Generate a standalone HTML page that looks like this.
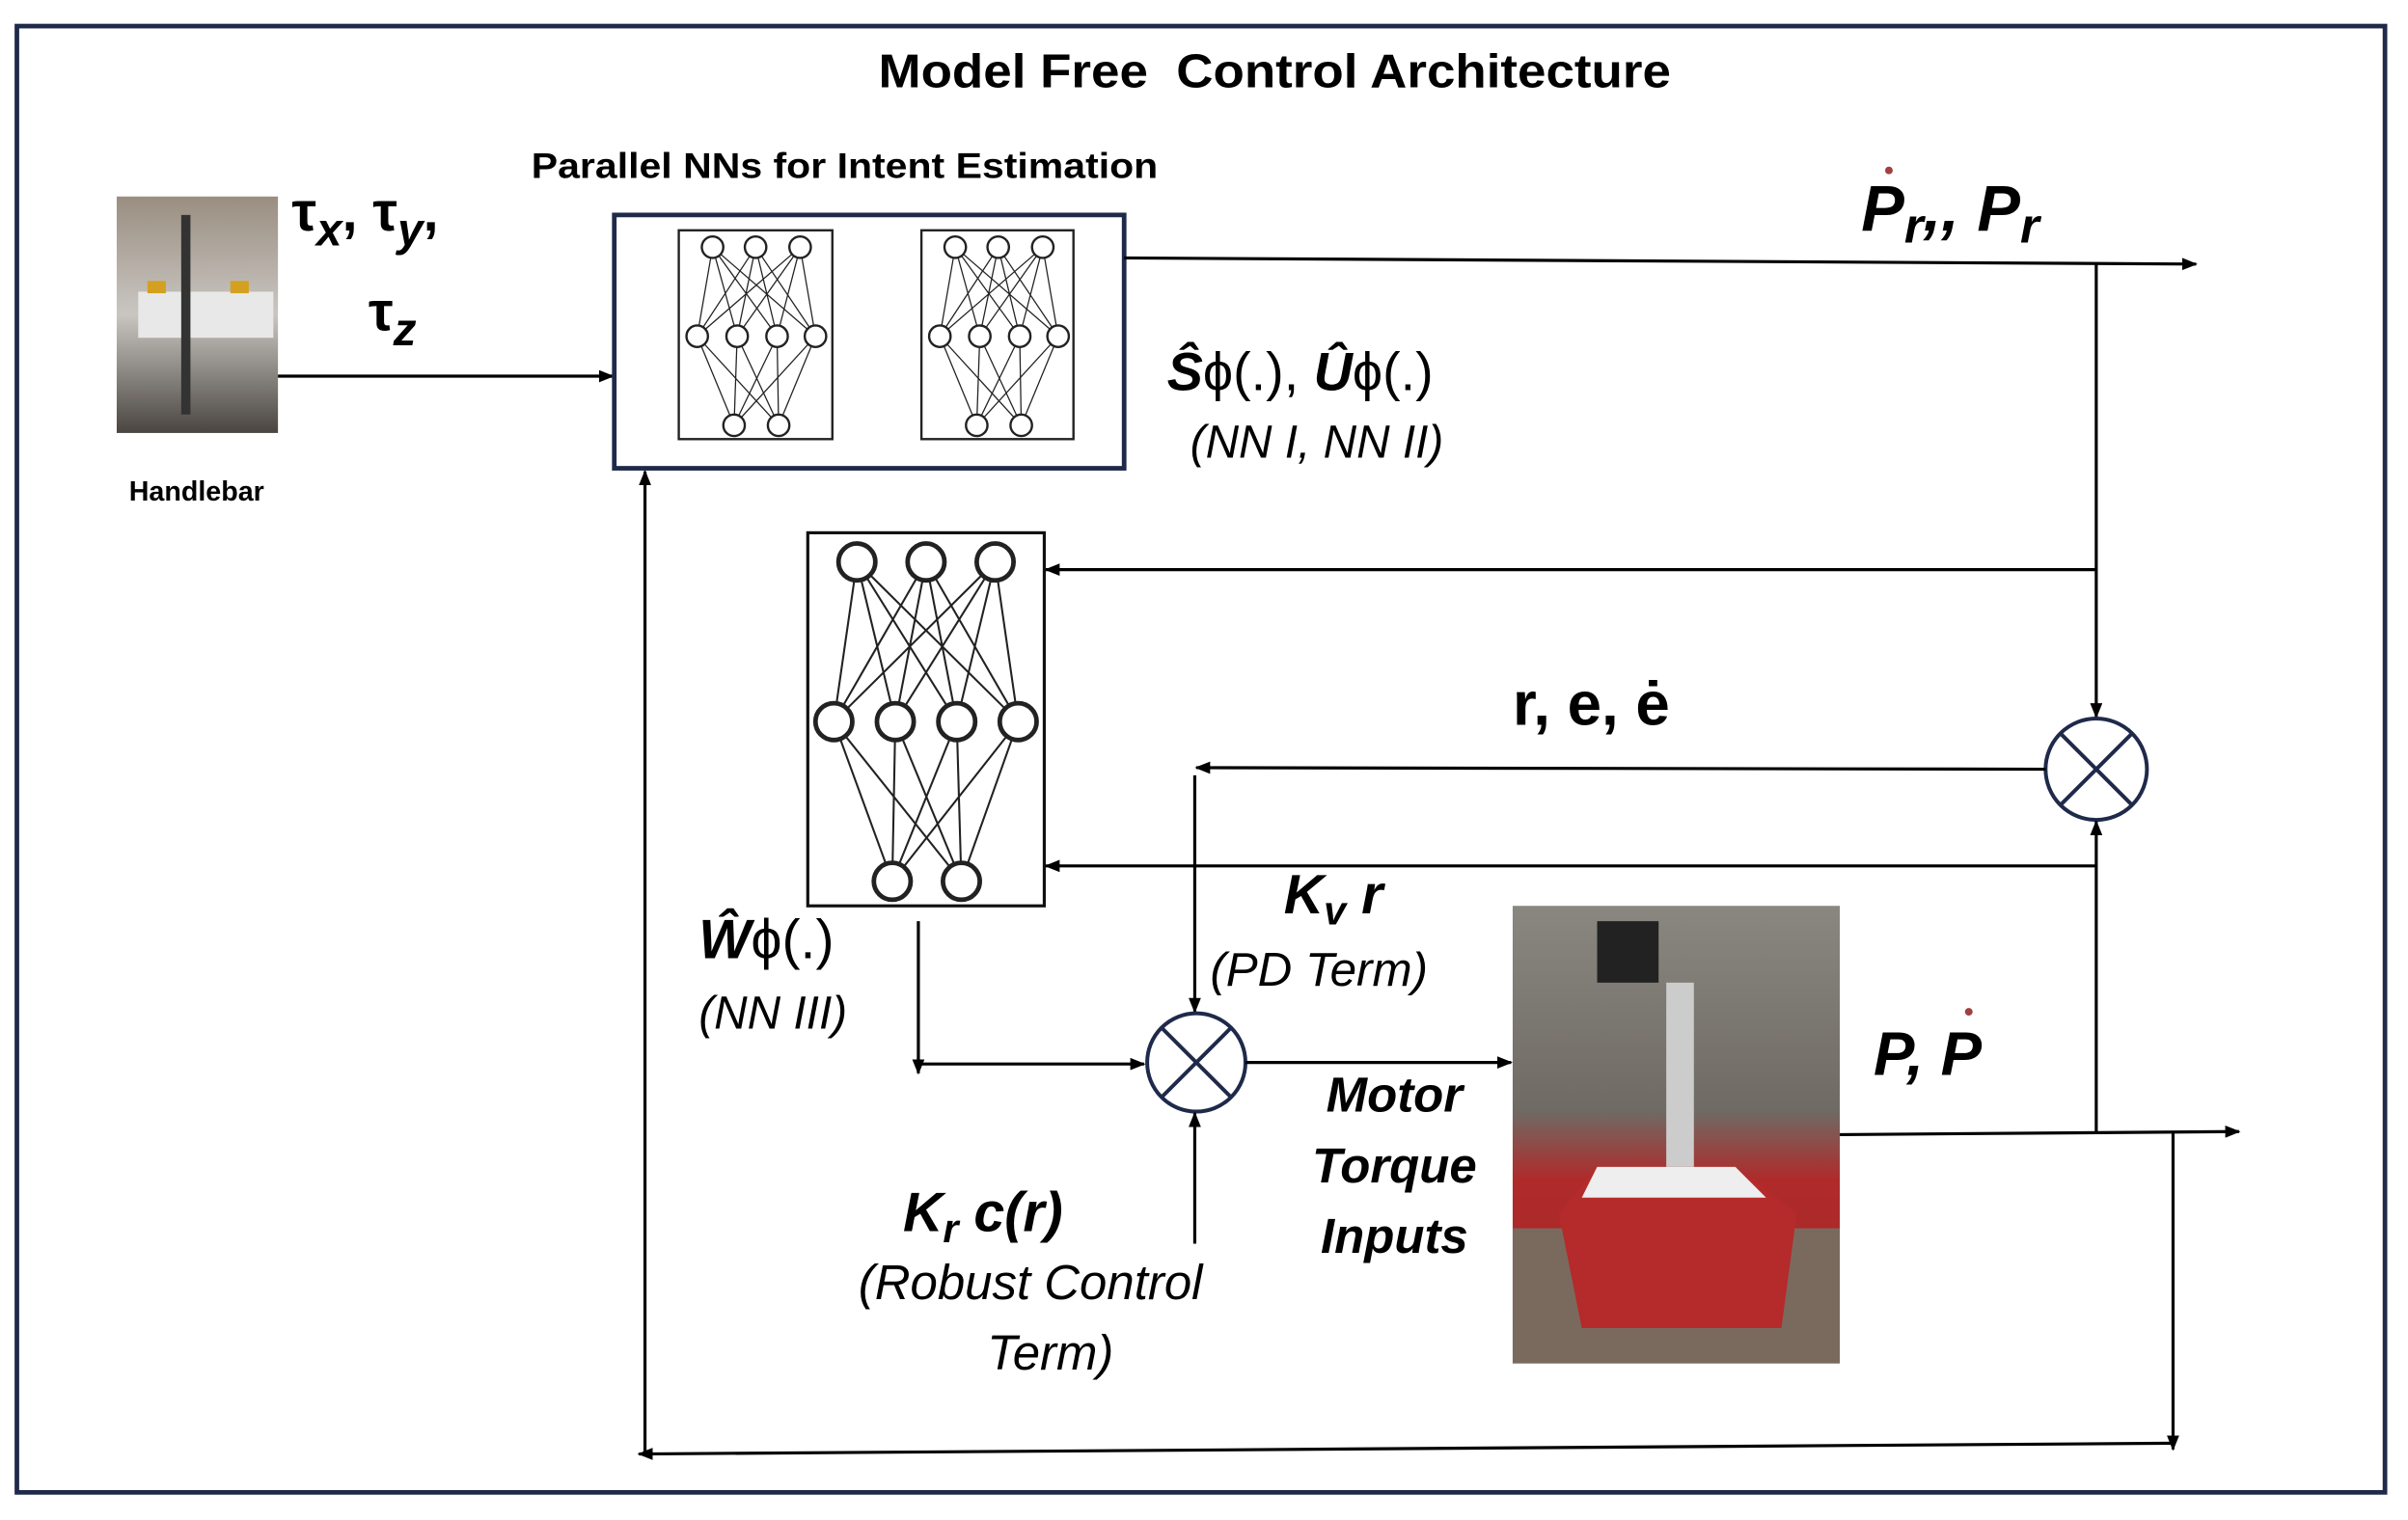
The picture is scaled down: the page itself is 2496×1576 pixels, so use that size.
<!DOCTYPE html>
<html><head><meta charset="utf-8"><style>
html,body{margin:0;padding:0;background:#fff}
svg{display:block}
text{font-family:"Liberation Sans",sans-serif;fill:#000}
</style></head><body>
<svg width="2496" height="1576" viewBox="0 0 1568 990" preserveAspectRatio="none" xmlns="http://www.w3.org/2000/svg">
<defs>
<marker id="a" markerWidth="10" markerHeight="8" refX="9" refY="4" orient="auto" markerUnits="userSpaceOnUse"><path d="M0,0 L10,4 L0,8 z" fill="#000"/></marker>
<linearGradient id="rb" x1="0" y1="0" x2="0" y2="1"><stop offset="0" stop-color="#8a8680"/><stop offset="0.45" stop-color="#6f6a64"/><stop offset="0.6" stop-color="#b02a2a"/><stop offset="0.9" stop-color="#a52a2a"/><stop offset="1" stop-color="#7a6e64"/></linearGradient>
<linearGradient id="hb" x1="0" y1="0" x2="0" y2="1"><stop offset="0" stop-color="#9a8e80"/><stop offset="0.5" stop-color="#c9c6c2"/><stop offset="1" stop-color="#4a4540"/></linearGradient>
</defs>
<rect x="11" y="17" width="1542" height="955" fill="#fff" stroke="#1f2a4a" stroke-width="3"/>
<text x="830" y="57" font-size="31" font-weight="bold" text-anchor="middle" textLength="516" lengthAdjust="spacingAndGlyphs" xml:space="preserve">Model Free  Control Architecture</text>
<text x="346" y="116" font-size="23" font-weight="bold" textLength="408" lengthAdjust="spacingAndGlyphs">Parallel NNs for Intent Estimation</text>
<rect x="76" y="128" width="105" height="154" fill="url(#hb)"/>
<rect x="90" y="190" width="88" height="30" fill="#e8e8e8"/>
<rect x="96" y="183" width="12" height="8" fill="#d4a020"/>
<rect x="150" y="183" width="12" height="8" fill="#d4a020"/>
<rect x="118" y="140" width="6" height="130" fill="#333"/>
<text x="128" y="326" font-size="18" font-weight="bold" text-anchor="middle">Handlebar</text>
<text x="190" y="150" font-size="36" font-family="DejaVu Serif,serif" font-weight="bold">τ<tspan font-size="30" dy="10" font-style="italic">x</tspan><tspan dy="-10">, τ</tspan><tspan font-size="30" dy="10" font-style="italic">y</tspan><tspan dy="-10">,</tspan></text>
<text x="240" y="215" font-size="36" font-family="DejaVu Serif,serif" font-weight="bold">τ<tspan font-size="30" dy="10" font-style="italic">z</tspan></text>
<line x1="181" y1="245" x2="399" y2="245" stroke="#000" stroke-width="2" marker-end="url(#a)"/>
<rect x="400" y="140" width="332" height="165" fill="#fff" stroke="#1f2a4a" stroke-width="3"/>
<g stroke="#222" stroke-width="1.5" fill="#fff">
<rect x="442" y="150" width="100" height="136"/>
<rect x="600" y="150" width="99" height="136"/>
<g stroke-width="0.8">
<path d="M464,161L454,219M464,161L480,219M464,161L506,219M464,161L531,219M492,161L454,219M492,161L480,219M492,161L506,219M492,161L531,219M521,161L454,219M521,161L480,219M521,161L506,219M521,161L531,219M454,219L478,277M480,219L478,277M506,219L478,277M531,219L478,277M454,219L507,277M480,219L507,277M506,219L507,277M531,219L507,277"/>
<path d="M622,161L612,219M622,161L638,219M622,161L664,219M622,161L689,219M650,161L612,219M650,161L638,219M650,161L664,219M650,161L689,219M679,161L612,219M679,161L638,219M679,161L664,219M679,161L689,219M612,219L636,277M638,219L636,277M664,219L636,277M689,219L636,277M612,219L665,277M638,219L665,277M664,219L665,277M689,219L665,277"/>
</g>
<circle cx="464" cy="161" r="7"/><circle cx="492" cy="161" r="7"/><circle cx="521" cy="161" r="7"/>
<circle cx="454" cy="219" r="7"/><circle cx="480" cy="219" r="7"/><circle cx="506" cy="219" r="7"/><circle cx="531" cy="219" r="7"/>
<circle cx="478" cy="277" r="7"/><circle cx="507" cy="277" r="7"/>
<circle cx="622" cy="161" r="7"/><circle cx="650" cy="161" r="7"/><circle cx="679" cy="161" r="7"/>
<circle cx="612" cy="219" r="7"/><circle cx="638" cy="219" r="7"/><circle cx="664" cy="219" r="7"/><circle cx="689" cy="219" r="7"/>
<circle cx="636" cy="277" r="7"/><circle cx="665" cy="277" r="7"/>
</g>
<line x1="732" y1="168" x2="1430" y2="172" stroke="#000" stroke-width="2" marker-end="url(#a)"/>
<text x="1212" y="150" font-size="42" font-weight="bold" font-style="italic" font-family="Liberation Serif,serif">P<tspan font-size="32" dy="8">r</tspan><tspan dy="-8">,, P</tspan><tspan font-size="32" dy="8">r</tspan></text>
<circle cx="1230" cy="111" r="2.5" fill="#a04040"/>
<text x="760" y="254" font-size="35" font-family="Liberation Serif,serif"><tspan font-weight="bold" font-style="italic">Ŝ</tspan>ϕ(.), <tspan font-weight="bold" font-style="italic">Û</tspan>ϕ(.)</text>
<text x="775" y="298" font-size="30" font-style="italic">(NN I, NN II)</text>
<line x1="1365" y1="172" x2="1365" y2="467" stroke="#000" stroke-width="2" marker-end="url(#a)"/>
<line x1="1365" y1="371" x2="681" y2="371" stroke="#000" stroke-width="2" marker-end="url(#a)"/>
<circle cx="1365" cy="501" r="33" fill="#fff" stroke="#1f2a4a" stroke-width="2.5"/>
<path d="M1342,478L1388,524M1388,478L1342,524" stroke="#1f2a4a" stroke-width="2.5"/>
<rect x="526" y="347" width="154" height="243" fill="#fff" stroke="#111" stroke-width="2"/>
<g stroke="#222" stroke-width="1.3" fill="#fff">
<path d="M558,366L543,470M558,366L583,470M558,366L623,470M558,366L663,470M603,366L543,470M603,366L583,470M603,366L623,470M603,366L663,470M648,366L543,470M648,366L583,470M648,366L623,470M648,366L663,470M543,470L581,574M583,470L581,574M623,470L581,574M663,470L581,574M543,470L626,574M583,470L626,574M623,470L626,574M663,470L626,574"/>
<g stroke-width="3"><circle cx="558" cy="366" r="12"/><circle cx="603" cy="366" r="12"/><circle cx="648" cy="366" r="12"/>
<circle cx="543" cy="470" r="12"/><circle cx="583" cy="470" r="12"/><circle cx="623" cy="470" r="12"/><circle cx="663" cy="470" r="12"/>
<circle cx="581" cy="574" r="12"/><circle cx="626" cy="574" r="12"/></g>
</g>
<text x="985" y="472" font-size="40" font-weight="bold">r, e, ė</text>
<line x1="1332" y1="501" x2="779" y2="500" stroke="#000" stroke-width="2" marker-end="url(#a)"/>
<line x1="778" y1="505" x2="778" y2="659" stroke="#000" stroke-width="2" marker-end="url(#a)"/>
<line x1="1365" y1="564" x2="681" y2="564" stroke="#000" stroke-width="2" marker-end="url(#a)"/>
<line x1="1365" y1="737" x2="1365" y2="535" stroke="#000" stroke-width="2" marker-end="url(#a)"/>
<text x="455" y="624" font-size="36" font-family="Liberation Serif,serif"><tspan font-weight="bold" font-style="italic">Ŵ</tspan>ϕ(.)</text>
<text x="455" y="670" font-size="30" font-style="italic">(NN III)</text>
<line x1="598" y1="600" x2="598" y2="699" stroke="#000" stroke-width="2" marker-end="url(#a)"/>
<line x1="598" y1="693" x2="745" y2="693" stroke="#000" stroke-width="2" marker-end="url(#a)"/>
<circle cx="779" cy="692" r="32" fill="#fff" stroke="#1f2a4a" stroke-width="2.5"/>
<path d="M756,669L802,715M802,669L756,715" stroke="#1f2a4a" stroke-width="2.5"/>
<text x="836" y="595" font-size="36" font-weight="bold" font-style="italic" font-family="Liberation Serif,serif">K<tspan font-size="26" dy="7">v</tspan><tspan dy="-7"> r</tspan></text>
<text x="788" y="642" font-size="31" font-style="italic">(PD Term)</text>
<line x1="811" y1="692" x2="984" y2="692" stroke="#000" stroke-width="2" marker-end="url(#a)"/>
<g font-size="32" font-weight="bold" font-style="italic" text-anchor="middle">
<text x="908" y="724">Motor</text><text x="908" y="770">Torque</text><text x="908" y="816">Inputs</text></g>
<text x="588" y="802" font-size="36" font-weight="bold" font-style="italic" font-family="Liberation Serif,serif">K<tspan font-size="26" dy="7">r</tspan><tspan dy="-7"> c(r)</tspan></text>
<text x="671" y="846" font-size="32" font-style="italic" text-anchor="middle">(Robust Control</text>
<text x="684" y="892" font-size="32" font-style="italic" text-anchor="middle">Term)</text>
<line x1="778" y1="810" x2="778" y2="725" stroke="#000" stroke-width="2" marker-end="url(#a)"/>
<rect x="985" y="590" width="213" height="298" fill="url(#rb)"/>
<rect x="1040" y="600" width="40" height="40" fill="#222"/>
<rect x="985" y="800" width="213" height="88" fill="#7a6a5e"/>
<path d="M1015,790L1040,760L1130,760L1170,790L1160,865L1030,865z" fill="#b52a2a"/>
<path d="M1040,760L1130,760L1150,780L1030,780z" fill="#eee"/>
<rect x="1085" y="640" width="18" height="120" fill="#ccc"/>
<text x="1220" y="700" font-size="40" font-weight="bold" font-style="italic">P, P</text>
<circle cx="1282" cy="659" r="2.5" fill="#a04040"/>
<line x1="1198" y1="739" x2="1458" y2="737" stroke="#000" stroke-width="2" marker-end="url(#a)"/>
<line x1="1415" y1="737" x2="1415" y2="944" stroke="#000" stroke-width="2" marker-end="url(#a)"/>
<line x1="1415" y1="940" x2="416" y2="947" stroke="#000" stroke-width="2" marker-end="url(#a)"/>
<line x1="420" y1="947" x2="420" y2="307" stroke="#000" stroke-width="2" marker-end="url(#a)"/>
</svg>
</body></html>
